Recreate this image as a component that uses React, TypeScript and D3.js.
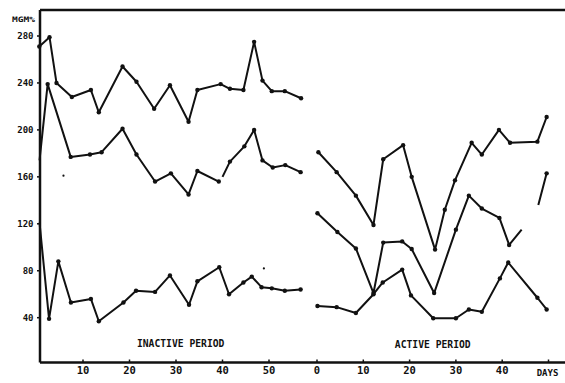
import React, { useRef, useEffect } from 'react';
import * as d3 from 'd3';

// [day, mg%] ; null = pen lifted, third value 0 = no dot at that point
type Pt = [number, number, number?] | null;

const inactiveHigh: Pt[] = [
  [0.6, 271], [2.8, 279], [4.3, 240], [7.6, 228], [11.7, 234], [13.4, 215], [18.5, 254],
  [21.5, 241], [25.3, 218], [28.7, 238], [32.7, 207], [34.6, 234], [39.6, 239], [41.6, 235],
  [44.5, 234], [46.8, 275], [48.6, 242], [50.6, 233], [53.4, 233], [56.9, 227],
];
const inactiveMid: Pt[] = [
  [0.65, 174, 0], [2.4, 239], [7.35, 177], [11.5, 179], [14.0, 181], [18.5, 201], [21.5, 179],
  [25.5, 156], [28.9, 163], [32.7, 145], [34.6, 165], [39.2, 156], null, [40.0, 160, 0],
  [41.6, 173], [44.7, 186], [46.8, 200], [48.6, 174], [50.8, 168], [53.5, 170], [56.8, 164],
];
const inactiveLow: Pt[] = [
  [0.65, 121, 0], [2.7, 39], [4.7, 88], [7.4, 53], [11.7, 56], [13.4, 37], [18.7, 53],
  [21.4, 63], [25.5, 62], [28.7, 76], [32.8, 51], [34.6, 71], [39.3, 83], [41.4, 60],
  [44.5, 70], [46.3, 75], [48.4, 66], [50.6, 65], [53.4, 63], [56.8, 64],
];

const activeHigh: Pt[] = [
  [0.3, 181], [4.25, 164], [8.4, 144], [12.2, 119], [14.3, 175], [18.6, 187], [20.45, 160],
  [25.5, 98], [27.6, 132], [29.8, 157], [33.4, 189], [35.6, 179], [39.3, 200], [41.7, 189],
  [47.6, 190], [49.6, 211],
];
const activeMid: Pt[] = [
  [0.1, 129], [4.4, 113], [8.4, 99], [12.2, 61], [14.3, 104], [18.4, 105], [20.45, 98.5],
  [25.3, 61], [30.0, 115], [32.8, 144], [35.6, 133], [39.4, 125], [41.5, 102], [44.2, 115, 0],
  null, [47.8, 136, 0], [49.6, 163],
];
const activeLow: Pt[] = [
  [0.1, 50], [4.25, 49], [8.4, 44], [12.2, 60], [14.2, 70], [18.4, 81], [20.3, 59],
  [25.1, 39.5], [30.0, 39.5], [32.8, 47], [35.6, 45], [39.5, 73.5], [41.3, 87], [47.6, 57],
  [49.6, 47],
];

// loose specks on the sheet
const strayInactive: [number, number][] = [[5.8, 161], [48.9, 82]];

const yTicks = [40, 80, 120, 160, 200, 240, 280];
const inactiveDays = [10, 20, 30, 40, 50];
const activeDays = [0, 10, 20, 30, 40];

function App() {
  const ref = useRef<HTMLDivElement>(null);

  useEffect(() => {
    const width = 565;
    const height = 383;
    const top = 10;
    const axisX = 40;
    const axisY = 362.5;
    const ink = '#111';
    const font = "'DejaVu Sans Mono', monospace";

    d3.select(ref.current).selectAll('*').remove();
    const svg = d3
      .select(ref.current)
      .append('svg')
      .attr('width', width)
      .attr('height', height)
      .style('position', 'absolute')
      .style('left', 0)
      .style('top', 0)
      .style('background', '#fff');

    const y = d3.scaleLinear().domain([40, 280]).range([317.7, 36]);
    const xL = d3.scaleLinear().domain([0, 50]).range([36.5, 269]);
    const xR = d3.scaleLinear().domain([0, 50]).range([317, 548.5]);

    // frame: top rule, left axis, bottom axis
    svg.append('line').attr('x1', axisX).attr('x2', width).attr('y1', top).attr('y2', top)
      .attr('stroke', ink).attr('stroke-width', 2.5);
    svg.append('line').attr('x1', axisX).attr('x2', axisX).attr('y1', top).attr('y2', axisY)
      .attr('stroke', ink).attr('stroke-width', 2.5);
    svg.append('line').attr('x1', axisX).attr('x2', width).attr('y1', axisY).attr('y2', axisY)
      .attr('stroke', ink).attr('stroke-width', 2.5);

    // y ticks
    const yg = svg.append('g');
    yg.selectAll('line').data(yTicks).enter().append('line')
      .attr('x1', axisX - 3).attr('x2', axisX).attr('y1', (d) => y(d)).attr('y2', (d) => y(d))
      .attr('stroke', ink).attr('stroke-width', 1.5);
    yg.selectAll('text').data(yTicks).enter().append('text')
      .attr('x', 33.5).attr('y', (d) => y(d)).attr('dy', '0.35em')
      .attr('text-anchor', 'end').attr('font-family', font).attr('font-weight', 'bold')
      .attr('font-size', 9).attr('fill', ink).text((d) => d);

    svg.append('text').attr('x', 23.5).attr('y', 21.5).attr('text-anchor', 'middle')
      .attr('font-family', font).attr('font-weight', 'bold').attr('font-size', 7.5)
      .attr('textLength', 23).attr('lengthAdjust', 'spacingAndGlyphs').attr('fill', ink)
      .text('MGM%');

    // x ticks for both periods
    const xTicks = (days: number[], x: d3.ScaleLinear<number, number>) => {
      const g = svg.append('g');
      g.selectAll('line').data(days).enter().append('line')
        .attr('x1', (d) => x(d)).attr('x2', (d) => x(d)).attr('y1', axisY - 3).attr('y2', axisY)
        .attr('stroke', ink).attr('stroke-width', 1.5);
      g.selectAll('text').data(days).enter().append('text')
        .attr('x', (d) => x(d)).attr('y', 374).attr('text-anchor', 'middle')
        .attr('font-family', font).attr('font-weight', 'bold').attr('font-size', 10.5)
        .attr('fill', ink).text((d) => d);
    };
    xTicks(inactiveDays, xL);
    xTicks(activeDays, xR);
    svg.append('line').attr('x1', xR(50)).attr('x2', xR(50)).attr('y1', axisY - 3).attr('y2', axisY)
      .attr('stroke', ink).attr('stroke-width', 1.5);
    svg.append('text').attr('x', xR(50) - 1).attr('y', 375.5).attr('text-anchor', 'middle')
      .attr('font-family', font).attr('font-weight', 'bold').attr('font-size', 9)
      .attr('fill', ink).text('DAYS');

    // period captions
    svg.append('text').attr('x', xL(31)).attr('y', 347).attr('text-anchor', 'middle')
      .attr('font-family', font).attr('font-weight', 'bold').attr('font-size', 9.7)
      .attr('fill', ink).text('INACTIVE PERIOD');
    svg.append('text').attr('x', xR(25)).attr('y', 347.5).attr('text-anchor', 'middle')
      .attr('font-family', font).attr('font-weight', 'bold').attr('font-size', 9.7)
      .attr('fill', ink).text('ACTIVE PERIOD');

    const drawSeries = (pts: Pt[], x: d3.ScaleLinear<number, number>) => {
      const line = d3.line<any>()
        .defined((d) => d !== null)
        .x((d) => x(d[0]))
        .y((d) => y(d[1]));
      const g = svg.append('g');
      g.append('path').datum(pts).attr('d', line)
        .attr('fill', 'none').attr('stroke', ink).attr('stroke-width', 2)
        .attr('stroke-linejoin', 'round');
      g.selectAll('circle').data(pts.filter((d) => d !== null && d[2] !== 0) as any[])
        .enter().append('circle')
        .attr('cx', (d) => x(d[0])).attr('cy', (d) => y(d[1])).attr('r', 2.2)
        .attr('fill', ink);
    };

    drawSeries(inactiveHigh, xL);
    drawSeries(inactiveMid, xL);
    drawSeries(inactiveLow, xL);
    drawSeries(activeHigh, xR);
    drawSeries(activeMid, xR);
    drawSeries(activeLow, xR);

    svg.append('g').selectAll('circle').data(strayInactive).enter().append('circle')
      .attr('cx', (d) => xL(d[0])).attr('cy', (d) => y(d[1])).attr('r', 1.1).attr('fill', ink);
  }, []);

  return <div ref={ref} />;
}

export default App;
